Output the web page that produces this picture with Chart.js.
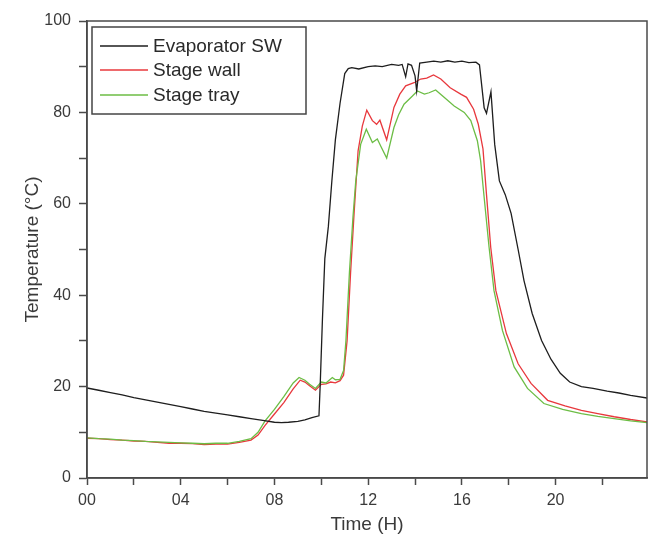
<!DOCTYPE html>
<html>
<head>
<meta charset="utf-8">
<script src="https://cdn.jsdelivr.net/npm/chart.js@4.4.1/dist/chart.umd.min.js"></script>
<style>
  html, body { margin: 0; padding: 0; background: #fff; }
  #wrap { width: 650px; height: 536px; }
</style>
</head>
<body>
<div id="wrap"><canvas id="tempChart" width="650" height="536"></canvas></div>
<script>
// series names
const seriesNames = ['Evaporator SW', 'Stage wall', 'Stage tray'];

// Evaporator SW (time in hours, temperature in C)
const evapTime = [0, 0.5, 1, 1.5, 2, 2.5, 3, 3.5, 4, 4.5, 5, 5.5, 6, 6.5, 7, 7.5, 8, 8.3, 8.6, 9, 9.3, 9.6, 9.9,
  9.95, 10.05, 10.15, 10.3, 10.45, 10.6, 10.8, 11.0, 11.15, 11.3, 11.6, 12.0, 12.3, 12.6, 13.0, 13.3, 13.45,
  13.6, 13.7, 13.85, 14.0, 14.07, 14.2, 14.5, 14.8, 15.1, 15.4, 15.7, 16.0, 16.3, 16.6, 16.75, 16.95, 17.05,
  17.24, 17.4, 17.6, 17.85, 18.1, 18.4, 18.65, 19.0, 19.4, 19.8, 20.2, 20.6, 21.1, 21.6, 22.2, 22.7, 23.2, 23.9];
const evapTemp = [19.7, 19.2, 18.7, 18.2, 17.6, 17.1, 16.6, 16.1, 15.6, 15.1, 14.6, 14.2, 13.8, 13.4, 13.0, 12.6, 12.2, 12.1, 12.2, 12.4, 12.7, 13.2, 13.6,
  20, 35, 48, 55, 65, 74, 82, 88.5, 89.6, 89.8, 89.5, 90.0, 90.2, 90.0, 90.5, 90.3, 90.5,
  87.8, 90.6, 90.3, 88.0, 84.7, 90.8, 91.0, 91.2, 91.0, 91.3, 91.0, 91.2, 90.9, 91.0, 90.4, 81.0, 79.8,
  84.5, 73, 65, 62, 57.9, 50, 43.2, 36, 30.1, 26, 22.9, 21, 20, 19.6, 19, 18.6, 18.1, 17.5];

// Stage wall
const wallTime = [0, 0.5, 1, 1.5, 2, 2.5, 3, 3.5, 4, 4.5, 5, 5.5, 6, 6.5, 7, 7.3, 7.6, 8.0, 8.4, 8.8, 9.1, 9.3, 9.5, 9.75,
  10.0, 10.2, 10.4, 10.6, 10.8, 10.95, 11.1, 11.25, 11.4, 11.57, 11.75, 11.94, 12.18, 12.36, 12.5, 12.79, 13.1,
  13.35, 13.6, 13.96, 14.24, 14.5, 14.79, 15.1, 15.5, 15.95, 16.2, 16.5, 16.7, 16.9, 17.05, 17.23, 17.45, 17.9,
  18.4, 18.95, 19.66, 20.4, 21.1, 21.8, 22.5, 23.2, 23.9];
const wallTemp = [8.7, 8.6, 8.4, 8.3, 8.1, 8.0, 7.8, 7.6, 7.6, 7.5, 7.3, 7.4, 7.4, 7.8, 8.3, 9.4, 11.5, 14.0, 16.5, 19.5, 21.4, 21.0, 20.2, 19.2,
  20.5, 20.6, 21.0, 20.8, 21.3, 22.5, 30, 45, 58, 71.6, 77, 80.5, 78.2, 77.4, 78.3, 74, 81.1,
  84, 85.8, 86.5, 87.3, 87.5, 88.2, 87.3, 85.4, 84, 83.3, 80.7, 77.4, 72, 62, 50.5, 41, 31.6,
  25, 20.7, 17, 15.8, 14.8, 14.1, 13.4, 12.8, 12.3];

// Stage tray
const trayTime = [0, 0.5, 1, 1.5, 2, 2.5, 3, 3.5, 4, 4.5, 5, 5.5, 6, 6.5, 7, 7.3, 7.6, 8.0, 8.4, 8.8, 9.05, 9.3, 9.5, 9.75,
  10.0, 10.2, 10.47, 10.6, 10.8, 10.95, 11.05, 11.2, 11.35, 11.47, 11.68, 11.92, 12.18, 12.39, 12.55, 12.79, 13.1,
  13.3, 13.53, 13.89, 14.1, 14.4, 14.6, 14.88, 15.24, 15.67, 16.1, 16.38, 16.66, 16.8, 16.9, 17.16, 17.37, 17.73,
  18.23, 18.8, 19.5, 20.3, 21.1, 21.8, 22.5, 23.2, 23.9];
const trayTemp = [8.8, 8.6, 8.5, 8.3, 8.2, 8.0, 7.9, 7.8, 7.7, 7.6, 7.5, 7.6, 7.6, 8.0, 8.6, 10.0, 12.5, 15.0, 17.8, 20.8, 22.0, 21.4, 20.5, 19.6,
  21.0, 20.8, 22.0, 21.5, 21.6, 23.5, 30, 45, 57, 65, 73, 76.3, 73.4, 74.2, 72.5, 70, 76.7,
  79.5, 81.8, 83.6, 84.7, 84.0, 84.3, 84.9, 83.3, 81.4, 80, 78.2, 73.8, 69.4, 64, 50.5, 41, 32.3,
  24.3, 19.6, 16.3, 15.0, 14.1, 13.5, 13.0, 12.5, 12.1];

// axis ticks
const xTickValues = [0, 2, 4, 6, 8, 10, 12, 14, 16, 18, 20, 22];
const yTickValues = [0, 10, 20, 30, 40, 50, 60, 70, 80, 90, 100];

const colors = ['#1e1e1e', '#e8383d', '#6cbd45'];
const fontFamily = '"Liberation Sans", Arial, sans-serif';
const textColor = '#3a3a3a';
const axisColor = '#4a4a4a';

function toPoints(times, temps) {
  return times.map((t, i) => ({ x: t, y: temps[i] }));
}

// frame around plot + legend box in the upper left
const framePlugin = {
  id: 'frame',
  afterDatasetsDraw(chart) {
    const { ctx, chartArea } = chart;
    ctx.save();
    ctx.strokeStyle = axisColor;
    ctx.lineWidth = 1.5;
    ctx.strokeRect(chartArea.left, chartArea.top, chartArea.right - chartArea.left, chartArea.bottom - chartArea.top);

    // legend
    const bx = 92, by = 27, bw = 214, bh = 87;
    ctx.fillStyle = '#fff';
    ctx.fillRect(bx, by, bw, bh);
    ctx.strokeStyle = '#444';
    ctx.lineWidth = 1.5;
    ctx.strokeRect(bx, by, bw, bh);
    ctx.font = '19px ' + fontFamily;
    ctx.textBaseline = 'middle';
    const rows = [46, 70, 95];
    seriesNames.forEach((name, i) => {
      ctx.strokeStyle = colors[i];
      ctx.lineWidth = 1.3;
      ctx.beginPath();
      ctx.moveTo(100, rows[i]);
      ctx.lineTo(148, rows[i]);
      ctx.stroke();
      ctx.fillStyle = '#2a2a2a';
      ctx.fillText(name, 153, rows[i] + 1);
    });
    ctx.restore();
  }
};

const ctx = document.getElementById('tempChart').getContext('2d');
new Chart(ctx, {
  type: 'line',
  data: {
    datasets: [
      { label: seriesNames[0], data: toPoints(evapTime, evapTemp), borderColor: colors[0], order: 0 },
      { label: seriesNames[1], data: toPoints(wallTime, wallTemp), borderColor: colors[1], order: 2 },
      { label: seriesNames[2], data: toPoints(trayTime, trayTemp), borderColor: colors[2], order: 1 }
    ]
  },
  options: {
    responsive: false,
    animation: false,
    parsing: false,
    elements: {
      line: { borderWidth: 1.3, tension: 0, fill: false },
      point: { radius: 0 }
    },
    layout: { padding: { top: 21, right: 3, left: 0, bottom: 0 } },
    plugins: {
      legend: { display: false },
      tooltip: { enabled: false }
    },
    scales: {
      x: {
        type: 'linear',
        min: 0,
        max: 23.9,
        afterBuildTicks: scale => { scale.ticks = xTickValues.map(v => ({ value: v })); },
        afterFit: scale => { scale.height = 58; },
        ticks: {
          autoSkip: false,
          maxRotation: 0,
          padding: 6,
          color: textColor,
          font: { family: fontFamily, size: 16 },
          callback: v => (v % 4 === 0 ? String(v).padStart(2, '0') : '')
        },
        grid: { drawOnChartArea: false, tickLength: 7, tickColor: axisColor, tickWidth: 1.5 },
        border: { color: axisColor, width: 1.5 },
        title: {
          display: true,
          text: 'Time (H)',
          color: textColor,
          font: { family: fontFamily, size: 19 },
          padding: { top: 0, bottom: 0 }
        }
      },
      y: {
        min: 0,
        max: 100,
        afterBuildTicks: scale => { scale.ticks = yTickValues.map(v => ({ value: v })); },
        afterFit: scale => { scale.width = 87; },
        ticks: {
          autoSkip: false,
          padding: 8,
          color: textColor,
          font: { family: fontFamily, size: 16 },
          callback: v => (v % 20 === 0 ? String(v) : '')
        },
        grid: { drawOnChartArea: false, tickLength: 8, tickColor: axisColor, tickWidth: 1.5 },
        border: { color: axisColor, width: 1.5 },
        title: {
          display: true,
          text: 'Temperature (°C)',
          color: textColor,
          font: { family: fontFamily, size: 19 },
          padding: { top: 21, bottom: 0 }
        }
      }
    }
  },
  plugins: [framePlugin]
});
</script>
</body>
</html>
